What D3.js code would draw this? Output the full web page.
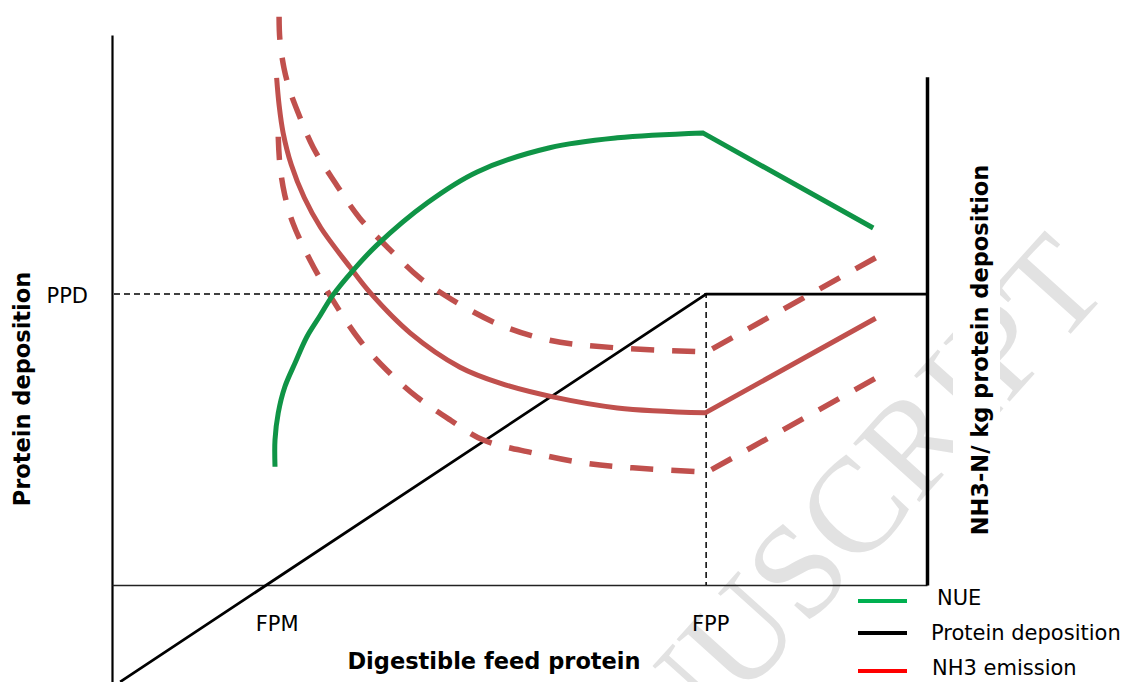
<!DOCTYPE html>
<html>
<head>
<meta http-equiv="Content-Type" content="text/html; charset=utf-8" />
<title>NUE / protein deposition / NH3</title>
<script type="text/javascript" src="https://cdn.jsdelivr.net/npm/d3@7/dist/d3.min.js"></script>
<style>
body{margin:0;background:#fff;}
#chart{display:block;font-family:"DejaVu Sans",Verdana,sans-serif;}
</style>
</head>
<body>
<svg id="chart" width="1127" height="682"></svg>
<script type="text/javascript">
// x = digestible feed protein (0..100), y = relative level (0..100)
// curves bend at FPP: points up to the bend are smoothed, after it straight
var proteinX = [1.0, 72.9, 100];
var proteinY = [-17.6, 52.9, 52.9];

var nueX = [20.0, 20.0, 20.4, 21.2, 22.5, 23.9, 25.5, 27.1, 29.4, 32.5, 38.7, 44.8, 53.7, 62.0, 72.5, 93.4];
var nueY = [21.5, 26.4, 31.3, 36.0, 40.5, 45.1, 48.9, 52.7, 56.9, 61.8, 69.5, 75.1, 79.5, 81.3, 82.2, 64.9];

var nh3X = [20.2, 20.5, 21.0, 22.0, 23.6, 25.6, 29.2, 31.7, 36.6, 42.7, 47.6, 54.1, 62.0, 72.8, 93.7];
var nh3Y = [92.2, 87.3, 82.2, 76.4, 70.4, 65.0, 57.8, 53.1, 45.8, 39.6, 36.7, 34.2, 32.2, 31.3, 48.5];

var nh3HighX = [20.5, 20.6, 21.1, 21.8, 22.8, 24.7, 27.4, 30.4, 34.5, 37.8, 41.8, 47.6, 53.7, 62.0, 73.0, 93.7];
var nh3HighY = [103.3, 99.1, 94.0, 90.0, 86.0, 79.5, 73.1, 66.7, 60.4, 55.8, 51.8, 47.3, 44.5, 43.1, 42.4, 59.5];

var nh3LowX = [20.4, 20.6, 21.2, 22.2, 24.3, 27.1, 30.4, 33.7, 37.4, 41.5, 45.5, 51.7, 57.8, 63.9, 73.0, 93.7];
var nh3LowY = [81.5, 76.4, 70.9, 65.8, 59.1, 51.8, 44.5, 39.1, 34.2, 30.0, 26.4, 24.0, 22.2, 21.3, 20.5, 37.6];

var PPD = 52.9;
var FPP = 72.9;
var xTickValues = [20.2, 73.4];
var xTickLabels = ["FPM", "FPP"];
var yTickLabels = ["PPD"];

var legendNames = ["NUE", "Protein deposition", "NH3 emission"];
var legendColors = ["#00b050", "#000000", "#ff0000"];

var green = "#0f9446";
var red = "#c0504d";

function zip(xs, ys){
	var arr = [];
	for(var i=0;i<xs.length;i++){ arr.push([xs[i], ys[i]]); }
	return arr;
}

function draw(){
	var svg = d3.select("#chart");
	var x = d3.scaleLinear().domain([0, 100]).range([112, 927]);
	var y = d3.scaleLinear().domain([0, 100]).range([585, 35]);

	// watermark
	svg.append("text")
		.attr("transform", "translate(1112,288) rotate(-48)")
		.attr("text-anchor", "end")
		.style("font-family", "'Liberation Serif','Times New Roman',serif")
		.style("font-size", "135px")
		.style("fill", "#e2e2e2")
		.text("ACCEPTED MANUSCRIPT");

	var smooth = d3.line().x(function(d){return x(d[0]);}).y(function(d){return y(d[1]);})
		.curve(d3.curveCatmullRom.alpha(0.5));
	// smooth part up to the bend, then straight lines
	function bentPath(xs, ys){
		var pts = zip(xs, ys);
		var last = pts.pop();
		return smooth(pts) + "L" + x(last[0]) + "," + y(last[1]);
	}

	// axes
	var yLeft = y.copy().domain([-17.6, 100]).range([y(-17.6), y(100)]);
	var gl = svg.append("g").attr("transform", "translate(" + x(0) + ",0)")
		.call(d3.axisLeft(yLeft).tickValues([PPD]).tickFormat(function(d,i){return yTickLabels[i];})
			.tickSize(0).tickSizeOuter(0).tickPadding(24));
	gl.select(".domain").attr("stroke", "#000").attr("stroke-width", 2.2);
	gl.selectAll("text").attr("dy", "0.38em").style("font-size", "21px")
		.style("font-family", "'DejaVu Sans',Verdana,sans-serif").attr("fill", "#000");

	var gb = svg.append("g").attr("transform", "translate(0," + y(0) + ")")
		.call(d3.axisBottom(x).tickValues(xTickValues).tickFormat(function(d,i){return xTickLabels[i];})
			.tickSize(0).tickSizeOuter(0).tickPadding(31));
	gb.select(".domain").attr("stroke", "#222").attr("stroke-width", 1.6);
	gb.selectAll("text").style("font-size", "21px")
		.style("font-family", "'DejaVu Sans',Verdana,sans-serif").attr("fill", "#000");

	var yRight = y.copy().domain([0, 92.4]).range([y(0), y(92.4)]);
	var gr = svg.append("g").attr("transform", "translate(" + x(100) + ",0)")
		.call(d3.axisRight(yRight).tickValues([]).tickSizeOuter(0));
	gr.select(".domain").attr("stroke", "#000").attr("stroke-width", 3.5);

	// guides at PPD / FPP
	svg.append("path")
		.attr("d", "M" + (x(0) + 2) + "," + y(PPD) + "H" + x(FPP) + "V" + y(0))
		.style("fill", "none").style("stroke", "#000").style("stroke-width", 1.5)
		.style("stroke-dasharray", "6,4");

	// protein deposition
	svg.append("path")
		.attr("d", d3.line().x(function(d){return x(d[0]);}).y(function(d){return y(d[1]);})(zip(proteinX, proteinY)))
		.style("fill", "none").style("stroke", "#000").style("stroke-width", 2.8);

	// NH3 band and mean
	svg.append("path").attr("d", bentPath(nh3HighX, nh3HighY))
		.style("fill", "none").style("stroke", red).style("stroke-width", 5.5).style("stroke-dasharray", "23,18");
	svg.append("path").attr("d", bentPath(nh3LowX, nh3LowY))
		.style("fill", "none").style("stroke", red).style("stroke-width", 5.5).style("stroke-dasharray", "23,18");
	svg.append("path").attr("d", bentPath(nh3X, nh3Y))
		.style("fill", "none").style("stroke", red).style("stroke-width", 5);

	// NUE
	svg.append("path").attr("d", bentPath(nueX, nueY))
		.style("fill", "none").style("stroke", green).style("stroke-width", 5);

	// axis titles
	svg.append("text").attr("transform", "translate(30,389) rotate(-90)")
		.attr("text-anchor", "middle").style("font-weight", "bold").style("font-size", "22.5px")
		.text("Protein deposition");
	svg.append("text").attr("x", 494).attr("y", 669)
		.attr("text-anchor", "middle").style("font-weight", "bold").style("font-size", "22.5px")
		.text("Digestible feed protein");
	svg.append("rect").attr("x", 953).attr("y", 140).attr("width", 47).attr("height", 420).attr("fill", "#fff");
	svg.append("text").attr("transform", "translate(988,350) rotate(-90)")
		.attr("text-anchor", "middle").style("font-weight", "bold").style("font-size", "22.5px")
		.text("NH3-N/ kg protein deposition");

	// legend
	var legY = [601, 633, 671];
	var legTX = [937, 931, 932];
	var legTY = [605, 640, 675];
	var lg = svg.append("g");
	for(var i=0;i<legendNames.length;i++){
		lg.append("line").attr("x1", 858).attr("x2", 907).attr("y1", legY[i]).attr("y2", legY[i])
			.style("stroke", legendColors[i]).style("stroke-width", 4);
		lg.append("text").attr("x", legTX[i]).attr("y", legTY[i])
			.style("font-size", "21px").text(legendNames[i]);
	}
}

draw();
</script>
</body>
</html>
